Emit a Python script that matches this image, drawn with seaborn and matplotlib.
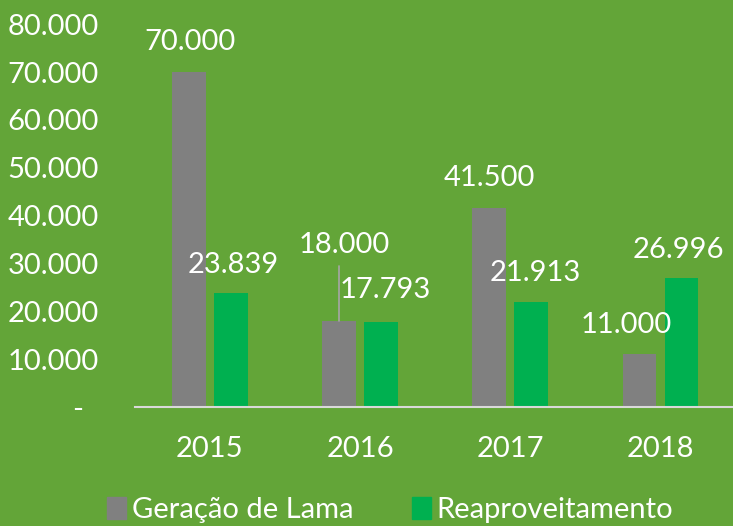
import pandas as pd
import numpy as np
import matplotlib.pyplot as plt
import seaborn as sns
from matplotlib.patches import Patch

# Data
years = ['2015', '2016', '2017', '2018']
geracao = [70000, 18000, 41500, 11000]
reaproveitamento = [23839, 17793, 21913, 26996]
series_names = ['Geração de Lama', 'Reaproveitamento']
y_ticks = [0, 10000, 20000, 30000, 40000, 50000, 60000, 70000, 80000]

df = pd.DataFrame({
    'Ano': years * 2,
    'Valor': geracao + reaproveitamento,
    'Serie': [series_names[0]] * 4 + [series_names[1]] * 4,
})

bg = '#63A538'
colors = {series_names[0]: '#808080', series_names[1]: '#00B050'}
fs = 21

sns.set_style('white')
plt.rcParams['font.family'] = ['Lato', 'DejaVu Sans']

fig = plt.figure(figsize=(7.33, 5.26), dpi=100, facecolor=bg)
ax = fig.add_axes([0.184, 0.226, 0.819, 0.728])
ax.set_facecolor(bg)

sns.barplot(data=df, x='Ano', y='Valor', hue='Serie', palette=colors,
            width=0.56, gap=0.21, saturation=1, linewidth=0, ax=ax, legend=False)

ax.set_xlim(-0.5, 3.5)
ax.set_ylim(0, 80000)
ax.set_xlabel('')
ax.set_ylabel('')

# thousands with dot, zero as dash
def fmt(v):
    return f'{v:,.0f}'.replace(',', '.')

ax.set_yticks(y_ticks)
ax.set_yticklabels(['-  '] + [fmt(v) for v in y_ticks[1:]])
ax.tick_params(axis='y', length=0, pad=26, labelsize=fs, labelcolor='white')
ax.tick_params(axis='x', length=0, pad=21, labelsize=fs, labelcolor='white')

for s in ['top', 'right', 'left']:
    ax.spines[s].set_visible(False)
ax.spines['bottom'].set_color('#D9D9D9')
ax.spines['bottom'].set_linewidth(1.5)

# data labels (offsets in points)
offsets = {0: (1, 22), 1: (4, 55), 2: (0, 22), 3: (-9, 21),
           4: (2, 20), 5: (3, 23), 6: (3, 21), 7: (-2, 20)}
values = geracao + reaproveitamento
for i, p in enumerate(ax.patches[:8]):
    cx = p.get_x() + p.get_width() / 2
    h = p.get_height()
    dx, dy = offsets[i]
    ax.annotate(fmt(values[i]), (cx, h), xytext=(dx, dy), textcoords='offset points',
                ha='center', va='center', color='white', fontsize=fs)

# leader line for 2016 label
p = ax.patches[1]
cx = p.get_x() + p.get_width() / 2
ax.plot([cx, cx], [p.get_height(), p.get_height() + 11500], color='#A6A6A6', lw=1.2)

# legend
handles = [Patch(color=colors[n], label=n) for n in series_names]
fig.legend(handles=handles, loc='lower center', bbox_to_anchor=(0.532, -0.045), ncol=2,
           frameon=False, fontsize=fs, labelcolor='white', handlelength=0.65,
           handleheight=0.8, handletextpad=0.2, columnspacing=2.0)

fig.savefig('out.png', dpi=100, facecolor=bg)
